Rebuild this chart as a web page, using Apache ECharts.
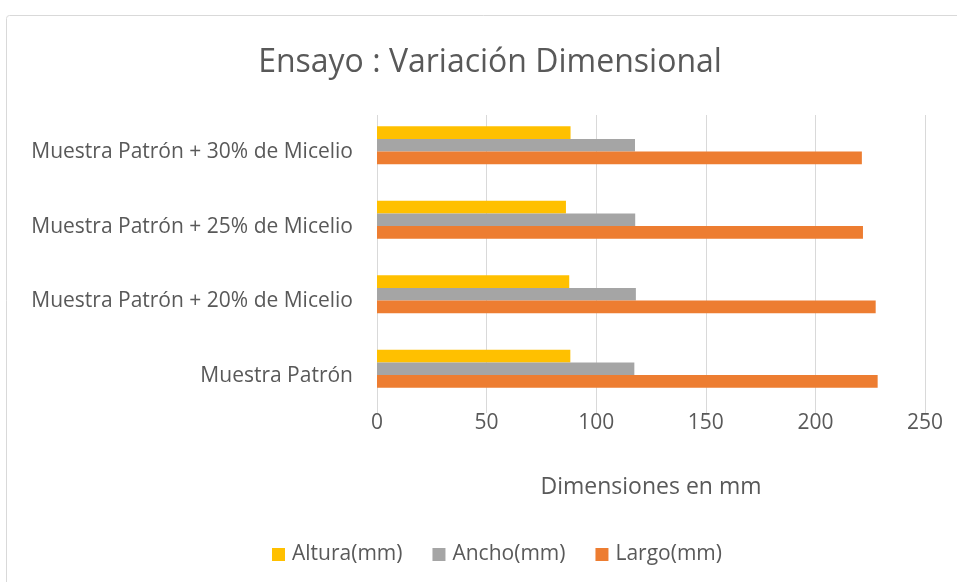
<!DOCTYPE html>
<html>
<head>
<meta charset="utf-8">
<script src="https://cdn.jsdelivr.net/npm/echarts@6/dist/echarts.min.js"></script>
<style>
html,body{margin:0;padding:0;background:#fff;}
#chart{width:957px;height:582px;}
</style>
</head>
<body>
<div id="chart"></div>
<script>
const categories = ['Muestra Patrón', 'Muestra Patrón + 20% de Micelio', 'Muestra Patrón + 25% de Micelio', 'Muestra Patrón + 30% de Micelio'];
const altura = [88.2, 87.7, 86.2, 88.3];
const ancho = [117.4, 118.1, 117.8, 117.7];
const largo = [228.4, 227.5, 221.7, 221.2];
const xTicks = [0, 50, 100, 150, 200, 250];
const titleText = 'Ensayo : Variación Dimensional';
const xAxisTitle = 'Dimensiones en mm';

const FONT = 'Open Sans';
const TXT = '#595959';

const chart = echarts.init(document.getElementById('chart'));
chart.setOption({
  animation: false,
  textStyle: { fontFamily: FONT },
  graphic: [
    { type: 'rect', shape: { x: 6.5, y: 15.5, width: 1000, height: 600, r: 3 }, style: { fill: 'none', stroke: '#D9D9D9', lineWidth: 1 }, z: -10 },
    { type: 'text', x: 490, y: 63, style: { text: titleText, font: '32px "Open Sans"', fill: TXT, textAlign: 'center', textVerticalAlign: 'middle' } }
  ],
  legend: {
    data: ['Altura(mm)', 'Ancho(mm)', 'Largo(mm)'],
    bottom: 12,
    left: 267,
    itemWidth: 13, itemHeight: 13, itemGap: 30,
    icon: 'rect',
    textStyle: { color: TXT, fontSize: 21, fontFamily: FONT, padding: [0, 0, 0, 2] }
  },
  grid: [
    { left: 377, width: 548, top: 115, height: 298 },
    { left: 377, width: 548, top: 108, height: 298 }
  ],
  xAxis: [
    {
      gridIndex: 0, type: 'value', min: xTicks[0], max: xTicks[xTicks.length - 1], interval: 50,
      axisLine: { show: false }, axisTick: { show: false },
      splitLine: { lineStyle: { color: '#D9D9D9', width: 1 } },
      axisLabel: { color: TXT, fontSize: 21, margin: 0 },
      name: xAxisTitle, nameLocation: 'middle', nameGap: 63,
      nameTextStyle: { color: TXT, fontSize: 23 }
    },
    {
      gridIndex: 1, type: 'value', min: xTicks[0], max: xTicks[xTicks.length - 1], interval: 50, show: false
    }
  ],
  yAxis: [
    {
      gridIndex: 0, type: 'category', data: categories,
      axisLine: { show: false }, axisTick: { show: false }, splitLine: { show: false },
      axisLabel: { color: TXT, fontSize: 21, margin: 24 }
    },
    { gridIndex: 1, type: 'category', data: categories, show: false }
  ],
  series: [
    { name: 'Altura(mm)', type: 'bar', xAxisIndex: 1, yAxisIndex: 1, data: altura, itemStyle: { color: '#FFC000' }, barWidth: 12.7, barGap: '0%' },
    { name: 'Ancho(mm)', type: 'bar', xAxisIndex: 1, yAxisIndex: 1, data: ancho, itemStyle: { color: '#A5A5A5' }, barWidth: 12.7, barGap: '0%' },
    { name: 'Largo(mm)', type: 'bar', xAxisIndex: 1, yAxisIndex: 1, data: largo, itemStyle: { color: '#ED7D31' }, barWidth: 12.7, barGap: '0%' }
  ]
});
</script>
</body>
</html>
